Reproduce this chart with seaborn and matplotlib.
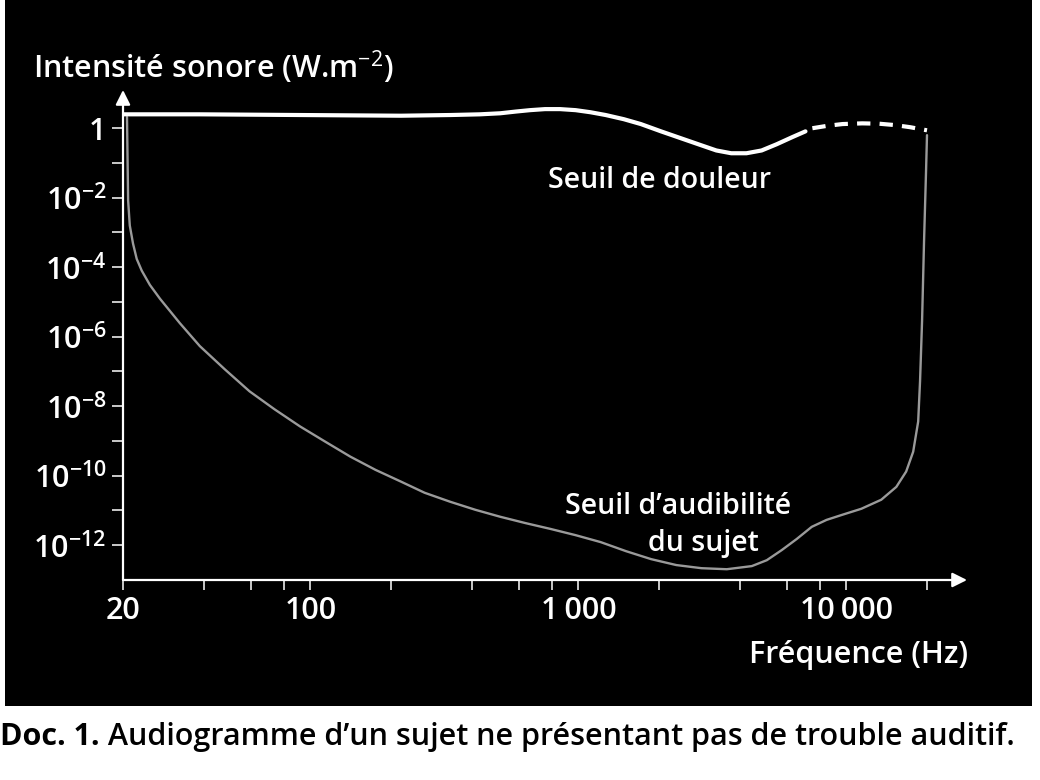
import numpy as np
import pandas as pd
import matplotlib
matplotlib.use("Agg")
import matplotlib.pyplot as plt
from matplotlib.patches import Rectangle
from matplotlib.ticker import FixedLocator, NullLocator
import seaborn as sns

# ---------------- data ----------------
# Seuil de douleur (pain threshold): frequency (Hz) and exponent of intensity (W.m-2)
pain_freq = [20, 38.7, 91.5, 218, 333, 429, 511, 585, 660, 751, 855, 977, 1110, 1265,
             1478, 1711, 2035, 2418, 2874, 3274, 3721, 4240, 4830, 5500, 6270, 7040]
pain_exp = [0.40, 0.40, 0.38, 0.36, 0.38, 0.40, 0.43, 0.48, 0.52, 0.55, 0.55, 0.52, 0.46,
            0.38, 0.26, 0.12, -0.09, -0.29, -0.49, -0.64, -0.72, -0.72, -0.64, -0.46,
            -0.26, -0.09]
# dashed (extrapolated) part of the pain threshold
pain_dash_freq = [7470, 8500, 9680, 11460, 13260, 15210, 17290, 20000]
pain_dash_exp = [0.00, 0.07, 0.12, 0.14, 0.13, 0.09, 0.03, -0.06]
# Seuil d'audibilité du sujet (hearing threshold)
hear_freq = [20.7, 20.8, 20.9, 21.2, 21.8, 22.5, 23.5, 25.2, 27.5, 32.6, 38.7, 48.0, 59.3,
             73.6, 91.5, 113.7, 141, 175, 218, 267, 333, 413, 511, 633, 787, 977, 1212,
             1506, 1870, 2320, 2880, 3580, 4440, 5050, 5740, 6530, 7430, 8440, 9600,
             11380, 13500, 15370, 16720, 17760, 18540, 18840, 19170, 19500, 19840, 20000]
hear_exp = [0.32, -0.90, -2.08, -2.80, -3.32, -3.76, -4.10, -4.51, -4.91, -5.61, -6.27,
            -6.94, -7.57, -8.09, -8.58, -9.02, -9.45, -9.83, -10.17, -10.49, -10.75,
            -10.98, -11.18, -11.36, -11.53, -11.71, -11.91, -12.17, -12.40, -12.57,
            -12.66, -12.69, -12.60, -12.43, -12.14, -11.82, -11.47, -11.27, -11.13,
            -10.95, -10.69, -10.32, -9.88, -9.31, -8.44, -7.28, -5.55, -3.24, -1.21, -0.20]

x_ticks = [20, 40, 60, 80, 100, 200, 400, 600, 800, 1000, 2000, 4000, 6000, 8000, 10000, 20000]
x_ticklabels = {20: "20", 100: "100", 1000: "1\u2009000", 10000: "10\u2009000"}
y_tick_exps = list(range(0, -13, -1))
y_label_exps = [0, -2, -4, -6, -8, -10, -12]

ylabel = "Intensité sonore (W.m$^{-2}$)"
xlabel = "Fréquence (Hz)"
pain_label = "Seuil de douleur"
hear_label1 = "Seuil d\u2019audibilité"
hear_label2 = "du sujet"
caption_bold = "Doc. 1."
caption_rest = " Audiogramme d\u2019un sujet ne présentant pas de trouble auditif."

# ---------------- style ----------------
sns.set_style("white")
plt.rcParams["font.family"] = ["Open Sans", "DejaVu Sans"]
plt.rcParams["mathtext.fontset"] = "custom"
plt.rcParams["mathtext.rm"] = "Open Sans"
plt.rcParams["mathtext.it"] = "Open Sans"
plt.rcParams["mathtext.bf"] = "Open Sans:bold"

FS = 22
W, H = 1040, 780
fig = plt.figure(figsize=(W / 100, H / 100), dpi=100, facecolor="white")

# black panel
fig.patches.append(Rectangle((5 / W, 1 - 706 / H), (1032 - 5) / W, 706 / H,
                             transform=fig.transFigure, facecolor="black",
                             edgecolor="none", zorder=-5))

x0, x1, y0, y1 = 123, 967, 580, 90
ax = fig.add_axes([x0 / W, 1 - y0 / H, (x1 - x0) / W, (y0 - y1) / H])
ax.set_zorder(2)
ax.patch.set_alpha(0)

df_pain = pd.DataFrame({"f": pain_freq, "I": np.power(10.0, pain_exp)})
df_dash = pd.DataFrame({"f": pain_dash_freq, "I": np.power(10.0, pain_dash_exp)})
df_hear = pd.DataFrame({"f": hear_freq, "I": np.power(10.0, hear_exp)})

sns.lineplot(data=df_hear, x="f", y="I", ax=ax, color="#9a9a9a", lw=1.7,
             estimator=None, sort=False)
sns.lineplot(data=df_pain, x="f", y="I", ax=ax, color="white", lw=3.0,
             estimator=None, sort=False, solid_capstyle="round", solid_joinstyle="round")
l = sns.lineplot(data=df_dash, x="f", y="I", ax=ax, color="white", lw=3.0,
                 estimator=None, sort=False)
l.lines[-1].set_dashes([3.2, 2.2])

ax.set_xscale("log")
ax.set_yscale("log")
ax.set_xlim(20, 20 * 10 ** ((x1 - x0) / 268))
ax.set_ylim(1e-13, 10 ** 1.1)

for s in ax.spines.values():
    s.set_visible(False)

# axes with arrows
ax.annotate("", xy=(1, 0), xytext=(0, 0), xycoords="axes fraction",
            arrowprops=dict(arrowstyle="-|>", color="white", lw=1.6,
                            mutation_scale=22, shrinkA=0, shrinkB=0))
ax.annotate("", xy=(0, 1), xytext=(0, 0), xycoords="axes fraction",
            arrowprops=dict(arrowstyle="-|>", color="white", lw=1.6,
                            mutation_scale=22, shrinkA=0, shrinkB=0))

ax.xaxis.set_major_locator(FixedLocator(x_ticks))
ax.xaxis.set_minor_locator(NullLocator())
ax.set_xticklabels([x_ticklabels.get(t, "") for t in x_ticks])
yt = [10.0 ** e for e in y_tick_exps]
ax.yaxis.set_major_locator(FixedLocator(yt))
ax.yaxis.set_minor_locator(NullLocator())
ylabs = []
for e in y_tick_exps:
    if e == 0:
        ylabs.append("1")
    elif e in y_label_exps:
        ylabs.append("$\\mathregular{10^{%d}}$" % e)
    else:
        ylabs.append("")
ax.set_yticklabels(ylabs)

ax.tick_params(axis="x", direction="out", length=7.5, width=1.1, colors="white",
               labelsize=FS, pad=4, bottom=True)
ax.tick_params(axis="y", direction="out", length=8, width=1.1, colors="white",
               labelsize=FS, pad=4, left=True)
for lab in ax.get_xticklabels() + ax.get_yticklabels():
    lab.set_color("white")
    lab.set_fontweight("semibold")

ax.set_xlabel("")
ax.set_ylabel("")

# texts
kw = dict(color="white", fontsize=FS, fontweight="semibold")
kw2 = dict(color="white", fontsize=20.5, fontweight="semibold")
fig.text(33 / W, 1 - 67 / H, ylabel, ha="left", va="center", **kw)
fig.text(968 / W, 1 - 655 / H, xlabel, ha="right", va="center", **kw)
fig.text(548 / W, 1 - 181 / H, pain_label, ha="left", va="center", **kw2)
fig.text(678 / W, 1 - 506 / H, hear_label1, ha="center", va="center", **kw2)
fig.text(703 / W, 1 - 543 / H, hear_label2, ha="center", va="center", **kw2)

t1 = fig.text(0 / W, 1 - 737 / H, caption_bold, color="black", fontsize=FS,
              ha="left", va="center", fontweight="bold")
fig.canvas.draw()
bb = t1.get_window_extent()
fig.text(bb.x1 / W, 1 - 737 / H, caption_rest, color="black", fontsize=FS,
         ha="left", va="center", fontweight="semibold")

fig.savefig("out.png", dpi=100, facecolor="white")
